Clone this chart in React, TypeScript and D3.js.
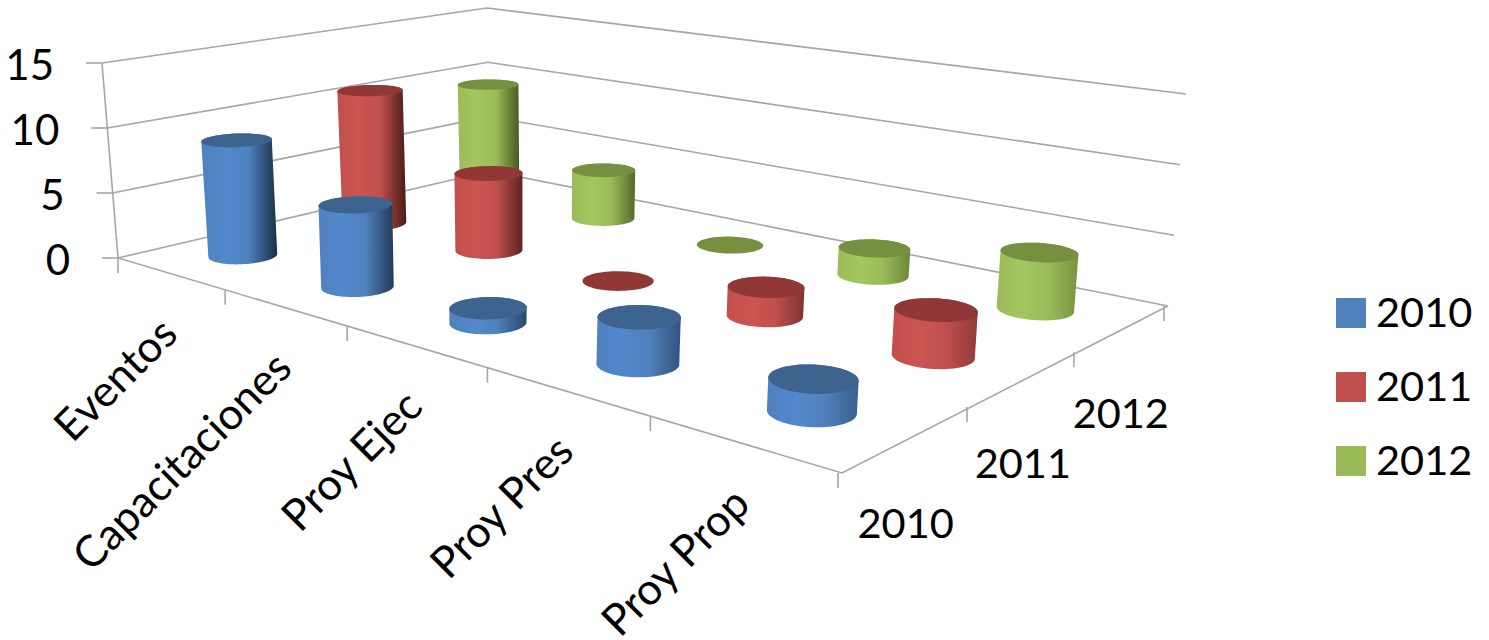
import React from "react";
import * as d3 from "d3";

const categories = ["Eventos", "Capacitaciones", "Proy Ejec", "Proy Pres", "Proy Prop"];
const seriesNames = ["2010", "2011", "2012"];
const values2010 = [8.9, 6, 1, 3, 1.95];
const values2011 = [10.9, 6, 0, 2, 3];
const values2012 = [9.6, 4, 0, 2, 4];
const allValues = [values2010, values2011, values2012];
const valueTicks = [0, 5, 10, 15];

const sideColors = ["#4f81bd", "#c0504d", "#9bbb59"];
const lightColors = ["#5288cc", "#cb5551", "#a3c75e"];
const topColors = ["#3d648f", "#913836", "#76903f"];
const darkColors = ["#1b2f48", "#4a1b1a", "#465a20"];

type Pt = [number, number];

// Homography of the unit square onto a quad given as p00, p10, p11, p01
function homography(p00: Pt, p10: Pt, p11: Pt, p01: Pt) {
  const [x0, y0] = p00, [x1, y1] = p10, [x2, y2] = p11, [x3, y3] = p01;
  const dx1 = x1 - x2, dx2 = x3 - x2, sx = x0 - x1 + x2 - x3;
  const dy1 = y1 - y2, dy2 = y3 - y2, sy = y0 - y1 + y2 - y3;
  const det = dx1 * dy2 - dx2 * dy1;
  const g = (sx * dy2 - dx2 * sy) / det;
  const h = (dx1 * sy - sx * dy1) / det;
  const a = x1 - x0 + g * x1, b = x3 - x0 + h * x3, c = x0;
  const d = y1 - y0 + g * y1, e = y3 - y0 + h * y3, f = y0;
  return (u: number, v: number): Pt => {
    const w = g * u + h * v + 1;
    return [(a * u + b * v + c) / w, (d * u + e * v + f) / w];
  };
}

const floor = homography([118, 258], [842, 473], [1168, 306], [490, 171]);
const ceiling = homography([102, 63], [856, 199], [1186, 94], [487, 8]);
const heightScale = d3.scaleLinear().domain([0, 15]).range([0, 1]);

function project(u: number, v: number, value: number): Pt {
  const a = floor(u, v), b = ceiling(u, v), t = heightScale(value);
  return [a[0] + (b[0] - a[0]) * t, a[1] + (b[1] - a[1]) * t];
}

const catScale = d3.scaleBand<number>().domain(d3.range(categories.length)).range([0, 1]);
const serScale = d3.scaleBand<string>().domain(seriesNames).range([0, 1]);

const RU = 0.0395;
const RV = 0.064;
const angles = d3.range(0, 72).map((i) => (i / 72) * 2 * Math.PI);

const pathOf = (pts: Pt[]) => d3.line()(pts)! + "Z";

const gridColor = "#a6a6a6";
const fontFamily = "Lato, 'Open Sans', sans-serif";

export default function App() {
  const cylinders: React.ReactNode[] = [];
  const gradients: React.ReactNode[] = [];
  [2, 1, 0].forEach((s) => {
    allValues[s].forEach((val, c) => {
      const u = catScale(c)! + catScale.bandwidth() / 2;
      const v = serScale(seriesNames[s])! + serScale.bandwidth() / 2;
      const base = angles.map((a) => project(u + RU * Math.cos(a), v + RV * Math.sin(a), 0));
      const top = angles.map((a) => project(u + RU * Math.cos(a), v + RV * Math.sin(a), val));
      const id = `g${s}${c}`;
      const xs = [...base, ...top].map((p) => p[0]);
      const dark = d3.interpolateRgb(darkColors[s], sideColors[s])(Math.max(0, (u - 0.1) * 0.75));
      gradients.push(
        <linearGradient key={id} id={id} gradientUnits="userSpaceOnUse" x1={d3.min(xs)} x2={d3.max(xs)} y1={0} y2={0}>
          <stop offset="0" stopColor={sideColors[s]} />
          <stop offset="0.32" stopColor={lightColors[s]} />
          <stop offset="0.62" stopColor={sideColors[s]} />
          <stop offset="1" stopColor={dark} />
        </linearGradient>
      );
      const hull = d3.polygonHull([...base, ...top] as [number, number][])!;
      cylinders.push(
        <g key={id}>
          {val > 0 && <path d={pathOf(hull as Pt[])} fill={`url(#${id})`} />}
          <path d={pathOf(top)} fill={topColors[s]} />
        </g>
      );
    });
  });

  const wallLines = valueTicks.map((t) => {
    const pts = [project(0, 0, t), project(0, 1, t), project(1, 1, t)];
    return <path key={t} d={d3.line()(pts)!} fill="none" stroke={gridColor} strokeWidth={1.6} />;
  });

  const catTicks = d3.range(categories.length).map((i) => {
    const p = project(i / categories.length, 0, 0);
    return <line key={i} x1={p[0]} x2={p[0]} y1={p[1]} y2={p[1] + 15} stroke={gridColor} strokeWidth={1.6} />;
  });
  const serTicks = d3.range(seriesNames.length + 1).map((i) => {
    const p = project(1, i / seriesNames.length, 0);
    return <line key={i} x1={p[0] - 4} x2={p[0] - 4} y1={p[1]} y2={p[1] + 15} stroke={gridColor} strokeWidth={1.6} />;
  });
  const valTicks = valueTicks.map((t) => {
    const p = project(0, 0, t);
    return <line key={t} x1={p[0] - 16} x2={p[0]} y1={p[1]} y2={p[1]} stroke={gridColor} strokeWidth={1.6} />;
  });

  return (
    <svg width={1489} height={640} style={{ position: "absolute", left: 0, top: 0 }} fontFamily={fontFamily} fill="#000">
      <defs>{gradients}</defs>
      {wallLines}
      <path d={d3.line()([project(0, 0, 15), project(0, 0, 0), project(1, 0, 0), project(1, 1, 0)])!} fill="none" stroke={gridColor} strokeWidth={1.6} />
      {valTicks}
      {catTicks}
      {serTicks}
      {cylinders}
      {valueTicks.map((t) => {
        const p = project(0, 0, t);
        return (
          <text key={t} x={p[0] - 48} y={p[1] + 17} fontSize={42} textAnchor="end">{t}</text>
        );
      })}
      {categories.map((c, i) => {
        const p = project((i + 0.5) / categories.length, 0, 0);
        return (
          <text key={c} transform={`translate(${p[0] + 10},${p[1] + 63}) rotate(-45)`} fontSize={43.5} textAnchor="end">{c}</text>
        );
      })}
      {seriesNames.map((n, i) => {
        const p = project(1, (i + 0.5) / seriesNames.length, 0);
        return (
          <text key={n} x={p[0] - 4} y={p[1] + 100} fontSize={41.5} textAnchor="middle">{n}</text>
        );
      })}
      {seriesNames.map((n, i) => {
        const y = d3.scaleLinear().domain([0, 2]).range([313, 461])(i);
        return (
          <g key={n}>
            <rect x={1336} y={y - 15} width={30} height={30} fill={sideColors[i]} />
            <text x={1376} y={y + 14} fontSize={41.5}>{n}</text>
          </g>
        );
      })}
    </svg>
  );
}
